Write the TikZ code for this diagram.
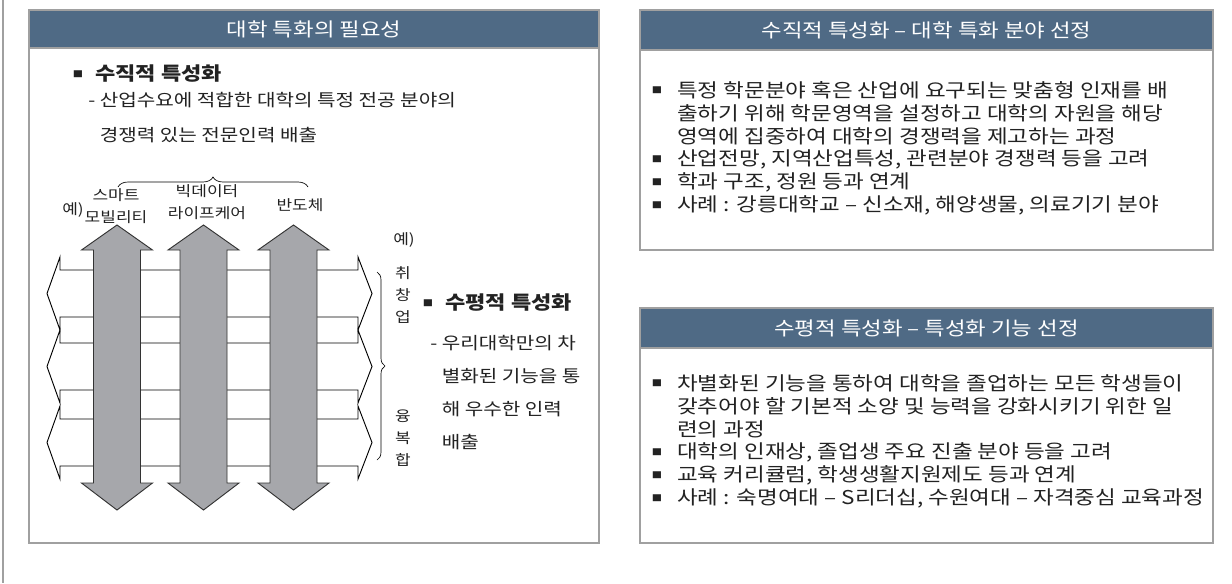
\documentclass[tikz,border=0pt]{standalone}
\usepackage{fontspec}
\setmainfont{Noto Sans CJK KR}[FakeStretch=1.18]
\usetikzlibrary{decorations.pathreplacing}
\definecolor{headblue}{RGB}{79,106,133}
\definecolor{framegray}{RGB}{160,160,160}
\definecolor{arrowgray}{RGB}{166,167,171}
\definecolor{inkgray}{RGB}{34,34,34}
\begin{document}
\begin{tikzpicture}[x=0.75pt,y=-0.75pt,
  panelbox/.style={draw=framegray, line width=1pt, fill=white, inner sep=0pt},
  headbar/.style={draw=framegray, line width=1pt, fill=headblue, text=white, inner sep=0pt,
    font=\fontsize{14.2pt}{17pt}\selectfont},
  bul/.style={inner sep=0pt, text=inkgray, font=\fontsize{6.5pt}{6.5pt}\selectfont},
  itemtext/.style={anchor=west, inner sep=0pt, align=left, text=inkgray,
    font=\fontsize{14.3pt}{17.3pt}\selectfont},
  subhead/.style={anchor=west, inner sep=0pt, text=inkgray, font=\fontsize{14pt}{17pt}\selectfont\bfseries},
  subtext/.style={anchor=west, inner sep=0pt, align=left, text=inkgray},
  lbl/.style={inner sep=0pt, align=center, text=inkgray, font=\fontsize{10.8pt}{16.5pt}\selectfont},
  rowarrow/.style={draw=black, line width=0.7pt, fill=white},
  colarrow/.style={draw=black!80, line width=0.7pt, fill=arrowgray},
  bracepath/.style={draw=black, line width=0.5pt, decorate},
]
\useasboundingbox (0,0) rectangle (1232,583);
\draw[framegray, line width=1.2pt] (3,0) -- (3,583);

% left panel
\node[panelbox, minimum width=427.5pt, minimum height=399.75pt] (needpanel) at (314,276.5) {};
\node[headbar, minimum width=427.5pt, minimum height=28.5pt] (needhead) at (314,29) {대학 특화의 필요성};
\node[bul] (vbul) at (78,74) {■};
\node[subhead] (vhead) at (95,74) {수직적 특성화};
\node[subtext, font=\fontsize{12.8pt}{26.2pt}\selectfont] (vtext) at (88,118)
  {- 산업수요에 적합한 대학의 특정 전공 분야의\\\hphantom{- }경쟁력 있는 전문인력 배출};

% horizontal rows, then vertical columns
\foreach \cy in {293.5,366.5,442.5}
  \draw[rowarrow] (47,\cy) -- (60,{\cy-36.5}) -- (60,{\cy-23.5}) -- (358,{\cy-23.5}) -- (358,{\cy-36.5})
    -- (372,\cy) -- (358,{\cy+36.5}) -- (358,{\cy+23.5}) -- (60,{\cy+23.5}) -- (60,{\cy+36.5}) -- cycle;
\foreach \cx in {117,203.5,293.5}
  \draw[colarrow] (\cx,225) -- ({\cx+35.5},250) -- ({\cx+23.5},250) -- ({\cx+23.5},483) -- ({\cx+35.5},483)
    -- (\cx,510) -- ({\cx-35.5},483) -- ({\cx-23.5},483) -- ({\cx-23.5},250) -- ({\cx-35.5},250) -- cycle;

% labels of the columns
\node[lbl] (colex) at (73,210) {예)};
\node[lbl] (mobility) at (116,206) {스마트\\모빌리티};
\node[lbl] (lifecare) at (207,202.5) {빅데이터\\라이프케어};
\node[lbl] (semicon) at (300,205) {반도체};
\coordinate (topbraceL) at (118,187);
\coordinate (topbraceR) at (308,187);
\draw[bracepath, decoration={brace, amplitude=7.5pt}] (topbraceL) -- (topbraceR);

% labels of the rows
\node[lbl] (rowex) at (404,240) {예)};
\node[lbl] (startup) at (403,295) {취\\창\\업};
\node[lbl] (fusion) at (403,438) {융\\복\\합};
\coordinate (sidebraceT) at (377,272);
\coordinate (sidebraceB) at (377,460);
\draw[bracepath, decoration={brace, amplitude=6pt}] (sidebraceT) -- (sidebraceB);

\node[bul] (hbul) at (428,303) {■};
\node[subhead] (hhead) at (445,303) {수평적 특성화};
\node[subtext, font=\fontsize{12.8pt}{24.75pt}\selectfont] (htext) at (430,392.5)
  {- 우리대학만의 차\\\hphantom{- }별화된 기능을 통\\\hphantom{- }해 우수한 인력\\\hphantom{- }배출};

% right upper panel
\node[panelbox, minimum width=429.75pt, minimum height=180pt] (vpanel) at (926.5,130) {};
\node[headbar, minimum width=429.75pt, minimum height=30pt] (vphead) at (926.5,30) {수직적 특성화 – 대학 특화 분야 선정};
\node[bul] (vb1) at (657,90) {■};
\node[itemtext] (vi1) at (677,113) {특정 학문분야 혹은 산업에 요구되는 맞춤형 인재를 배\\출하기 위해 학문영역을 설정하고 대학의 자원을 해당\\영역에 집중하여 대학의 경쟁력을 제고하는 과정};
\node[bul] (vb2) at (657,159) {■};
\node[itemtext] (vi2) at (677,159) {산업전망, 지역산업특성, 관련분야 경쟁력 등을 고려};
\node[bul] (vb3) at (657,182) {■};
\node[itemtext] (vi3) at (677,182) {학과 구조, 정원 등과 연계};
\node[bul] (vb4) at (657,205) {■};
\node[itemtext] (vi4) at (677,205) {사례 : 강릉대학교 – 신소재, 해양생물, 의료기기 분야};

% right lower panel
\node[panelbox, minimum width=429.75pt, minimum height=176.25pt] (hpanel) at (926.5,425.5) {};
\node[headbar, minimum width=429.75pt, minimum height=30pt] (hphead) at (926.5,328) {수평적 특성화 – 특성화 기능 선정};
\node[bul] (hb1) at (657,383) {■};
\node[itemtext] (hi1) at (677,406) {차별화된 기능을 통하여 대학을 졸업하는 모든 학생들이\\갖추어야 할 기본적 소양 및 능력을 강화시키기 위한 일\\련의 과정};
\node[bul] (hb2) at (657,452) {■};
\node[itemtext] (hi2) at (677,452) {대학의 인재상, 졸업생 주요 진출 분야 등을 고려};
\node[bul] (hb3) at (657,475) {■};
\node[itemtext] (hi3) at (677,475) {교육 커리큘럼, 학생생활지원제도 등과 연계};
\node[bul] (hb4) at (657,498) {■};
\node[itemtext] (hi4) at (677,498) {사례 : 숙명여대 – S리더십, 수원여대 – 자격중심 교육과정};
\end{tikzpicture}
\end{document}
